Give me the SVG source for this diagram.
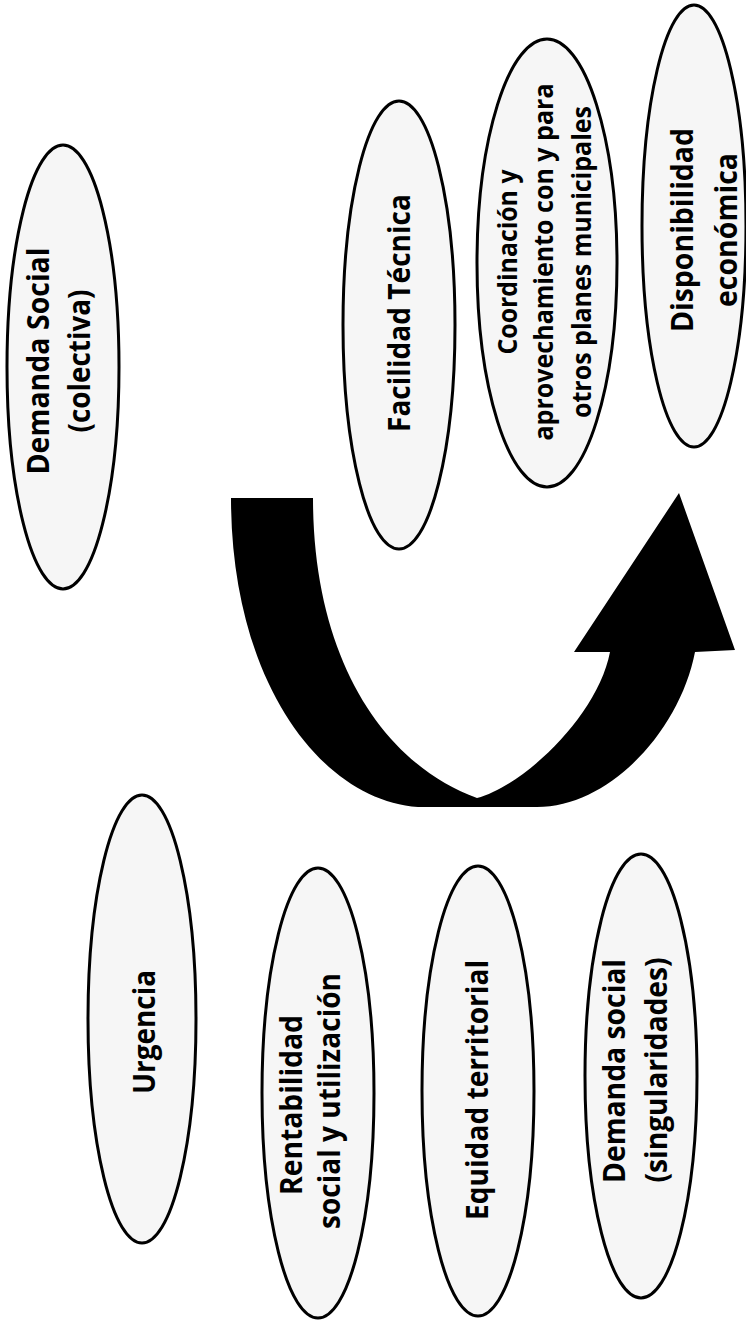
<svg xmlns="http://www.w3.org/2000/svg" width="746" height="1320" viewBox="0 0 746 1320">
<style>
.node ellipse{fill:#f6f6f6;stroke:#000;stroke-width:3}
.node text{font-family:"Open Sans","Liberation Sans",sans-serif;font-weight:700;font-size:31px;fill:#000;text-anchor:middle}
.node text.s{font-size:27px}
</style>
<rect width="746" height="1320" fill="#fff"/>
<g id="connectors">
<path id="curved-arrow" fill="#000" d="M231,498 L313,498 C313,660 385,765 477,798 C525,785 598,715 610,652 L574,652 L679,493 L735,650 L695,652 C680,730 610,807 537,807 L418,807 C320,800 231,680 231,498 Z"/>
</g>
<g id="n-demanda-colectiva" class="node">
<ellipse cx="63" cy="367" rx="56" ry="222"/>
<text transform="translate(49,361) rotate(-90)" textLength="227" lengthAdjust="spacingAndGlyphs">Demanda Social</text>
<text transform="translate(90,361) rotate(-90)" textLength="143" lengthAdjust="spacingAndGlyphs">(colectiva)</text>
</g>
<g id="n-facilidad" class="node">
<ellipse cx="399" cy="325" rx="56" ry="224"/>
<text transform="translate(410,313) rotate(-90)" textLength="238" lengthAdjust="spacingAndGlyphs">Facilidad Técnica</text>
</g>
<g id="n-coordinacion" class="node">
<ellipse cx="547" cy="263" rx="70" ry="224"/>
<text class="s" transform="translate(517,262) rotate(-90)" textLength="185" lengthAdjust="spacingAndGlyphs">Coordinación y</text>
<text class="s" transform="translate(553,262) rotate(-90)" textLength="357" lengthAdjust="spacingAndGlyphs">aprovechamiento con y para</text>
<text class="s" transform="translate(591,262) rotate(-90)" textLength="312" lengthAdjust="spacingAndGlyphs">otros planes municipales</text>
</g>
<g id="n-disponibilidad" class="node">
<ellipse cx="694" cy="226" rx="52" ry="221"/>
<text transform="translate(693,230) rotate(-90)" textLength="204" lengthAdjust="spacingAndGlyphs">Disponibilidad</text>
<text transform="translate(737,230) rotate(-90)" textLength="154" lengthAdjust="spacingAndGlyphs">económica</text>
</g>
<g id="n-urgencia" class="node">
<ellipse cx="142" cy="1019" rx="54" ry="224"/>
<text transform="translate(155,1032) rotate(-90)" textLength="124" lengthAdjust="spacingAndGlyphs">Urgencia</text>
</g>
<g id="n-rentabilidad" class="node">
<ellipse cx="318" cy="1093" rx="56" ry="225"/>
<text transform="translate(302,1105) rotate(-90)" textLength="180" lengthAdjust="spacingAndGlyphs">Rentabilidad</text>
<text transform="translate(340,1101) rotate(-90)" textLength="256" lengthAdjust="spacingAndGlyphs">social y utilización</text>
</g>
<g id="n-equidad" class="node">
<ellipse cx="478" cy="1091" rx="56" ry="225"/>
<text transform="translate(488,1090) rotate(-90)" textLength="260" lengthAdjust="spacingAndGlyphs">Equidad territorial</text>
</g>
<g id="n-demanda-singular" class="node">
<ellipse cx="641" cy="1076" rx="56" ry="222"/>
<text transform="translate(625,1071) rotate(-90)" textLength="224" lengthAdjust="spacingAndGlyphs">Demanda social</text>
<text transform="translate(667,1070) rotate(-90)" textLength="225" lengthAdjust="spacingAndGlyphs">(singularidades)</text>
</g>
</svg>
